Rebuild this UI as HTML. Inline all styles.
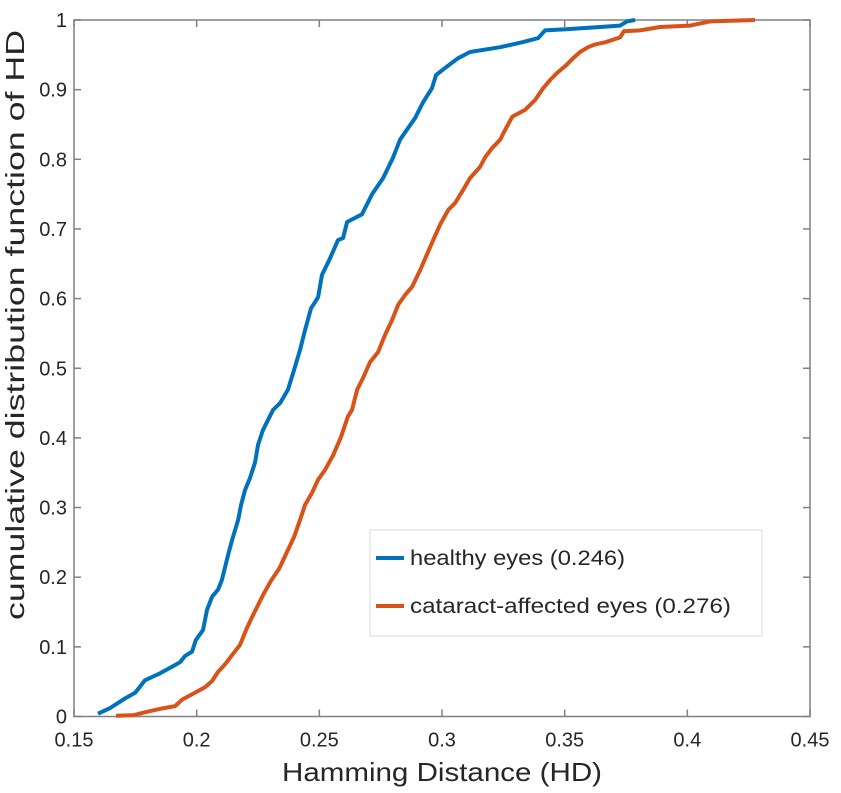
<!DOCTYPE html>
<html><head><meta charset="utf-8"><style>
body{margin:0;background:#fff}
svg text{font-family:"Liberation Sans",sans-serif;fill:#262626}
</style></head><body>
<svg id="chart" width="841" height="788" xmlns="http://www.w3.org/2000/svg">
<g id="axes"></g>
<g id="series"></g>
<text x="442" y="781" font-size="26" text-anchor="middle" textLength="320" lengthAdjust="spacingAndGlyphs">Hamming Distance (HD)</text>
<text transform="translate(24,325) rotate(-90)" font-size="26" text-anchor="middle" textLength="590" lengthAdjust="spacingAndGlyphs">cumulative distribution function of HD</text>
<g>
<rect x="370" y="530" width="392" height="106" fill="#fff" stroke="#d9d9d9" stroke-width="1"/>
<line x1="376" y1="558" x2="404" y2="558" stroke="#0072bd" stroke-width="4"/>
<text x="410" y="565" font-size="21" textLength="215" lengthAdjust="spacingAndGlyphs">healthy eyes (0.246)</text>
<line x1="376" y1="606" x2="404" y2="606" stroke="#d95319" stroke-width="4"/>
<text x="410" y="613" font-size="21" textLength="321" lengthAdjust="spacingAndGlyphs">cataract-affected eyes (0.276)</text>
</g>
</svg>
<script>
const xTicks=[0.15,0.2,0.25,0.3,0.35,0.4,0.45];
const xTickLabels=["0.15","0.2","0.25","0.3","0.35","0.4","0.45"];
const yTicks=[0,0.1,0.2,0.3,0.4,0.5,0.6,0.7,0.8,0.9,1];
const yTickLabels=["0","0.1","0.2","0.3","0.4","0.5","0.6","0.7","0.8","0.9","1"];
const healthyX=[.1598,.1647,.1708,.1749,.1769,.1789,.1851,.1912,.1932,.1953,.1981,.1997,.2026,.2042,.2063,.2087,.2103,.2128,.2144,.2169,.2181,.2197,.2217,.2238,.2250,.2270,.2291,.2311,.2340,.2372,.2393,.2421,.2442,.2466,.2495,.2511,.2544,.2576,.2597,.2613,.2674,.2715,.2760,.2800,.2829,.2862,.2890,.2923,.2959,.2976,.3012,.3065,.3114,.3237,.3326,.3392,.3420,.3514,.3644,.3726,.3754,.3787];
const healthyY=[.004,.012,.026,.034,.043,.052,.062,.074,.078,.087,.093,.110,.124,.153,.172,.182,.196,.232,.253,.282,.304,.325,.342,.365,.390,.411,.426,.440,.450,.469,.493,.526,.555,.586,.602,.634,.658,.684,.687,.710,.721,.750,.773,.802,.828,.845,.859,.882,.902,.921,.931,.945,.954,.961,.968,.974,.985,.987,.990,.992,.998,1];
const cataractX=[.1671,.1745,.1789,.1851,.1912,.1940,.1993,.2034,.2063,.2087,.2116,.2144,.2177,.2201,.2226,.2250,.2270,.2303,.2336,.2368,.2397,.2421,.2442,.2470,.2495,.2523,.2556,.2588,.2617,.2633,.2654,.2678,.2707,.2739,.2768,.2796,.2821,.2849,.2878,.2911,.2943,.2964,.2992,.3025,.3053,.3086,.3114,.3155,.3176,.3204,.3237,.3257,.3286,.3339,.3379,.3412,.3441,.3469,.3506,.3534,.3563,.3595,.3624,.3665,.3726,.3742,.3807,.3889,.4011,.4093,.4276];
const cataractY=[.001,.002,.006,.011,.015,.024,.034,.042,.051,.064,.075,.088,.103,.124,.143,.160,.174,.195,.212,.236,.258,.282,.304,.321,.340,.354,.375,.401,.431,.440,.469,.486,.509,.523,.548,.569,.591,.605,.617,.641,.667,.684,.706,.727,.737,.756,.773,.789,.803,.816,.828,.842,.861,.871,.885,.902,.914,.924,.935,.945,.954,.961,.965,.968,.975,.984,.985,.990,.992,.998,1];
const L=74,R=810,T=20,B=716.5;
const sx=v=>L+(v-0.15)/0.3*(R-L);
const sy=v=>B-v*(B-T);
const NS="http://www.w3.org/2000/svg";
function mk(tag,attrs,parent){const e=document.createElementNS(NS,tag);for(const k in attrs)e.setAttribute(k,attrs[k]);parent.appendChild(e);return e;}
const ax=document.getElementById('axes');
const box=mk('rect',{x:L,y:T,width:R-L,height:B-T,fill:'none',stroke:'#808080','stroke-width':1.5},ax);


xTicks.forEach((v,i)=>{const x=sx(v);
 const t1=mk('line',{x1:x,y1:B,x2:x,y2:B-7,stroke:'#808080','stroke-width':1.5},ax);
 
 
 const t2=mk('line',{x1:x,y1:T,x2:x,y2:T+7,stroke:'#808080','stroke-width':1.5},ax);
 
 
 const tx=mk('text',{x:x,y:B+30,'font-size':20,'text-anchor':'middle'},ax);tx.textContent=xTickLabels[i];
 
 
});
yTicks.forEach((v,i)=>{const y=sy(v);
 const t1=mk('line',{x1:L,y1:y,x2:L+7,y2:y,stroke:'#808080','stroke-width':1.5},ax);
 
 
 const t2=mk('line',{x1:R,y1:y,x2:R-7,y2:y,stroke:'#808080','stroke-width':1.5},ax);
 
 
 const tx=mk('text',{x:L-7,y:y+7,'font-size':20,'text-anchor':'end'},ax);tx.textContent=yTickLabels[i];
 
 
});
const sg=document.getElementById('series');
function line(xs,ys,color,name){const d=xs.map((v,i)=>(i?'L':'M')+sx(v).toFixed(1)+' '+sy(ys[i]).toFixed(1)).join(' ');
 const p=mk('path',{d:d,fill:'none',stroke:color,'stroke-width':4,'stroke-linejoin':'round'},sg);
 
 }
line(healthyX,healthyY,'#0072bd','healthy-eyes-line');
line(cataractX,cataractY,'#d95319','cataract-eyes-line');
</script>
</body></html>
